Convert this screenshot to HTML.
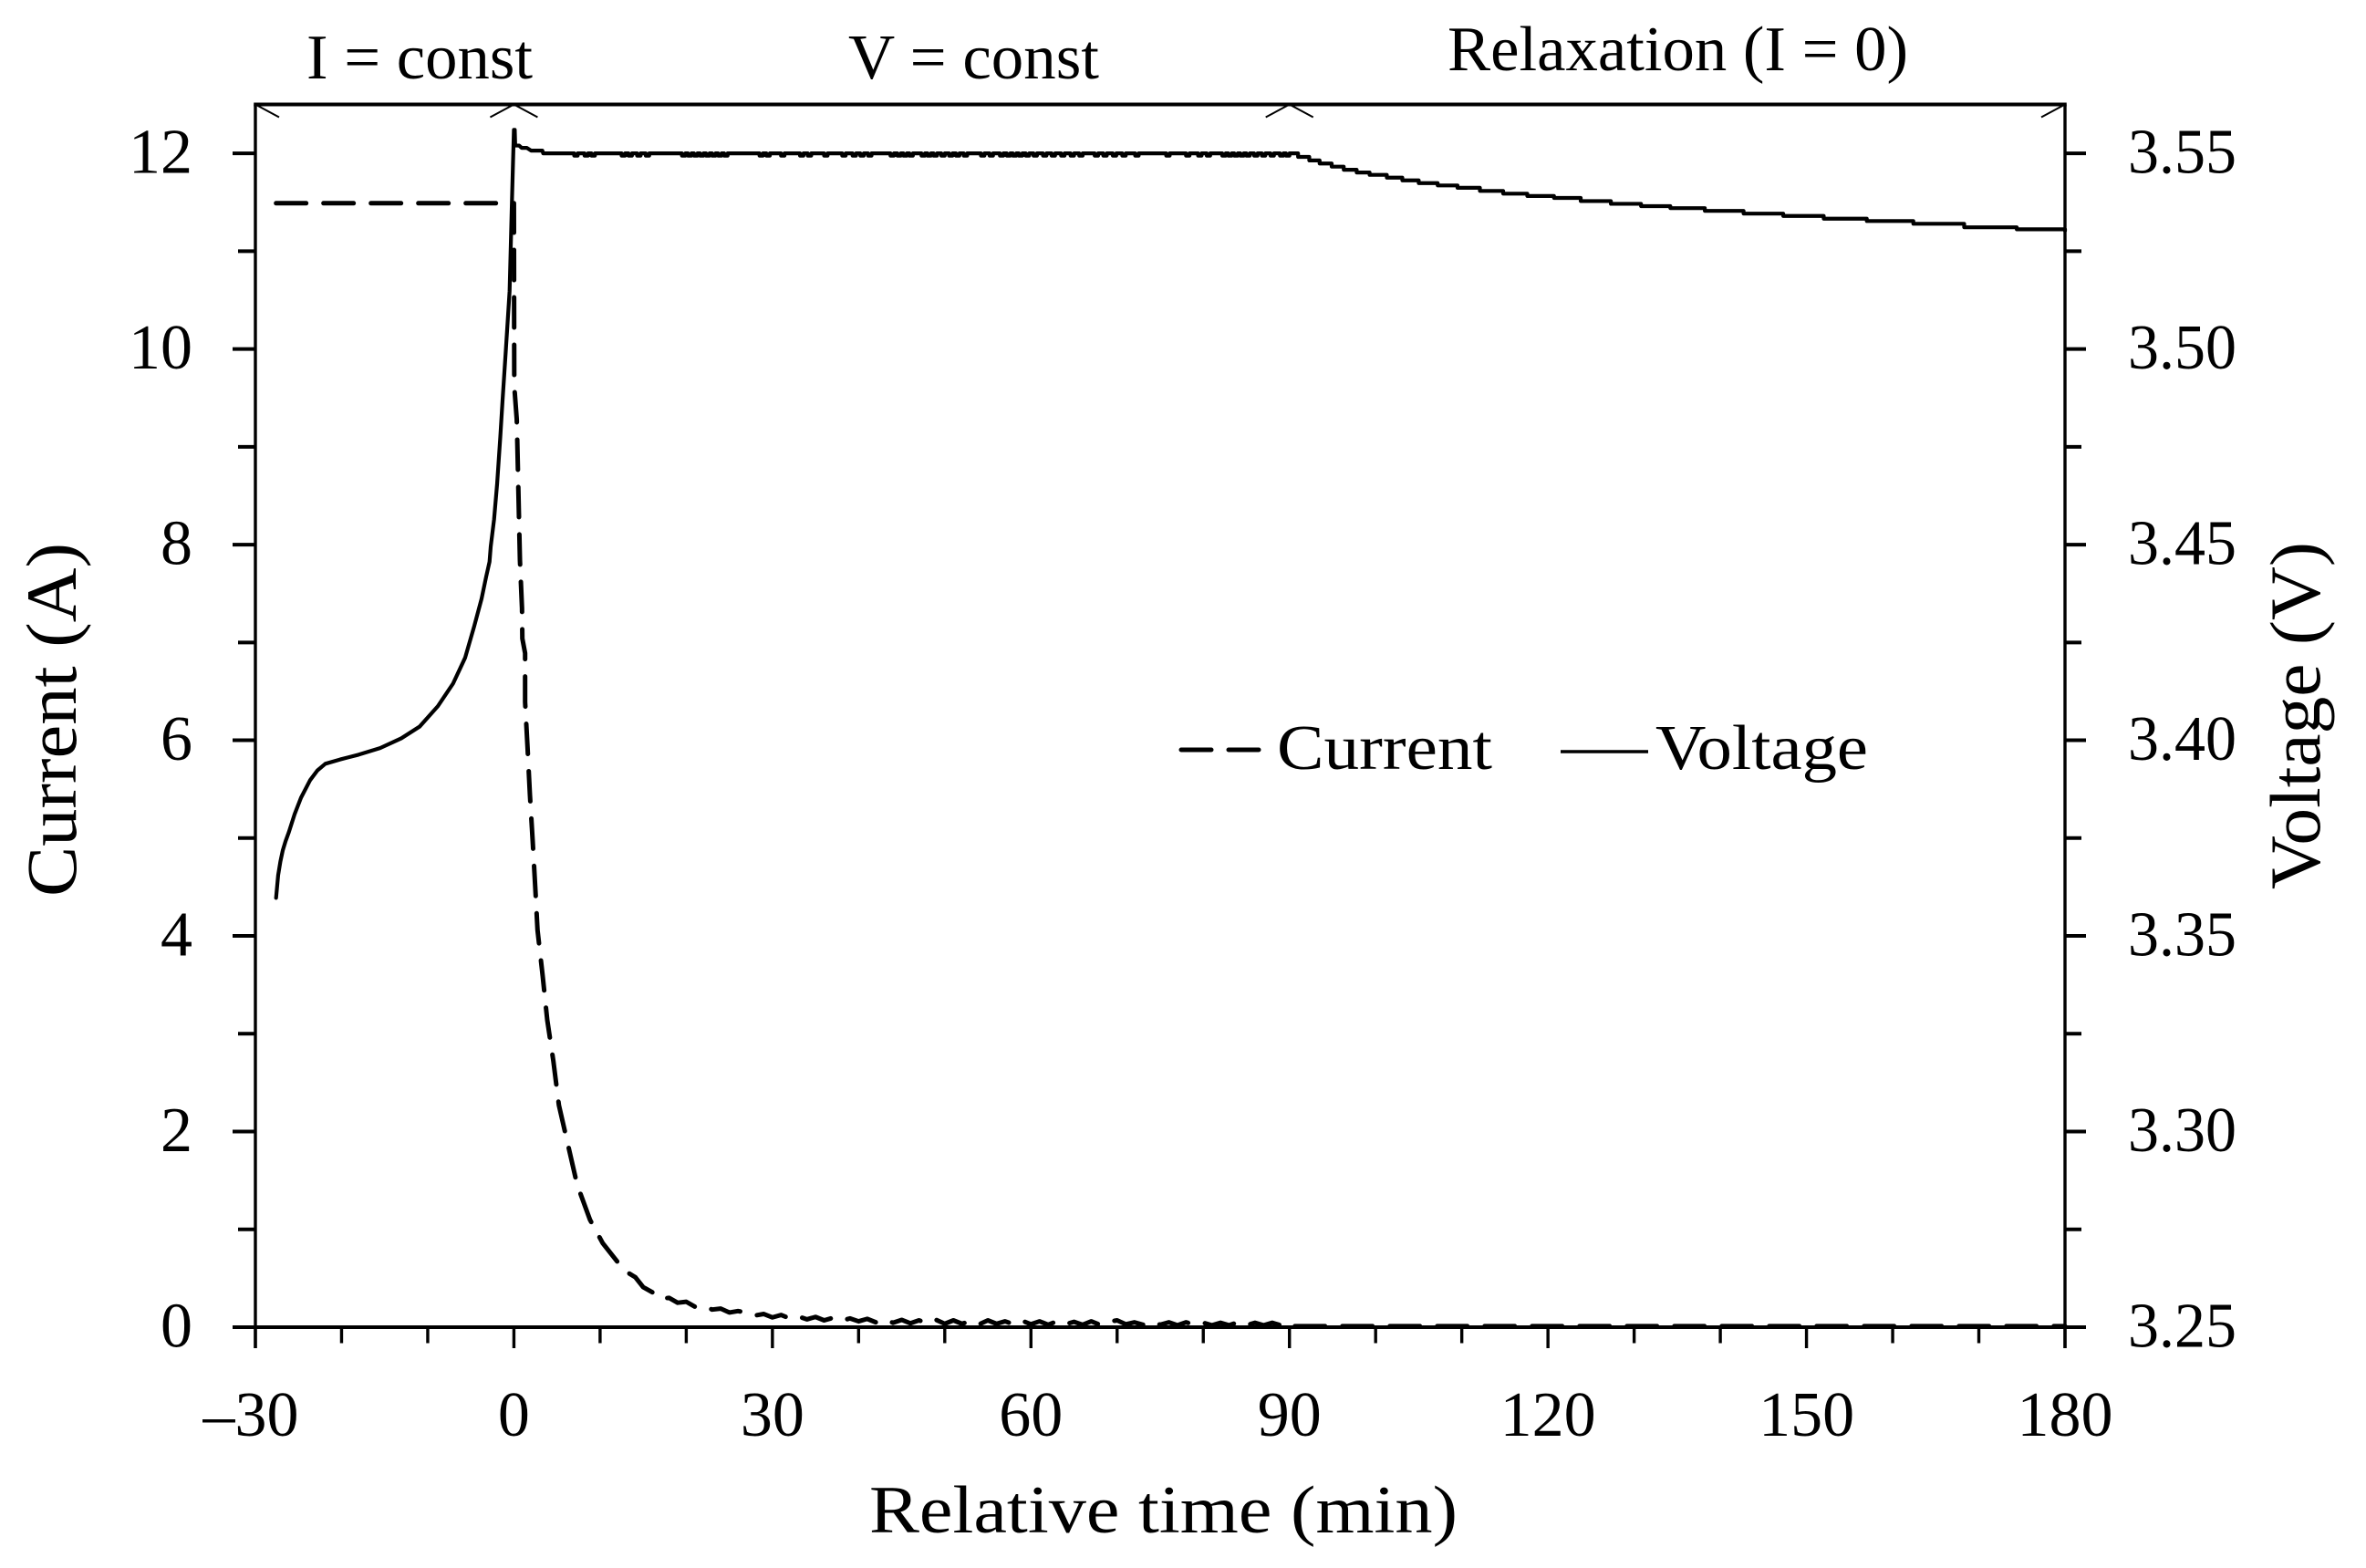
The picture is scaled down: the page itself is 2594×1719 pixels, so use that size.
<!DOCTYPE html>
<html lang="en">
<head>
<meta charset="utf-8">
<title>Current and voltage vs relative time</title>
<style>
html,body{margin:0;padding:0;background:#fff;}
svg{display:block;}
text{font-family:"Liberation Serif",serif;fill:#000;}
</style>
</head>
<body>
<svg id="chart" xmlns="http://www.w3.org/2000/svg" width="2594" height="1719" viewBox="0 0 2594 1719">
  <rect x="0" y="0" width="2594" height="1719" fill="#fff"/>
  <text x="336" y="86" font-size="70" textLength="248" lengthAdjust="spacingAndGlyphs">I = const</text>
  <text x="930" y="86" font-size="70" textLength="275" lengthAdjust="spacingAndGlyphs">V = const</text>
  <text x="1587" y="77" font-size="70" textLength="505" lengthAdjust="spacingAndGlyphs">Relaxation (I = 0)</text>
  <text x="953" y="1680" font-size="74" textLength="645" lengthAdjust="spacingAndGlyphs">Relative time (min)</text>
  <text transform="rotate(-90 83 983)" x="83" y="983" font-size="78" textLength="388" lengthAdjust="spacingAndGlyphs">Current (A)</text>
  <text transform="rotate(-90 2543 975)" x="2543" y="975" font-size="78" textLength="381" lengthAdjust="spacingAndGlyphs">Voltage (V)</text>
  <g>
    <line x1="1295" y1="822" x2="1380" y2="822" stroke="#000" stroke-width="5" stroke-linecap="round" stroke-dasharray="33 19"/>
    <text x="1400" y="843" font-size="70" textLength="236" lengthAdjust="spacingAndGlyphs">Current</text>
    <line x1="1711" y1="824" x2="1807" y2="824" stroke="#000" stroke-width="3.5"/>
    <text x="1815" y="843" font-size="70" textLength="233" lengthAdjust="spacingAndGlyphs">Voltage</text>
  </g>
</svg>
<script>
// ---- axis tick data ----
const xMajorTicks = [-30, 0, 30, 60, 90, 120, 150, 180];
const xTickLabels = ["\u201330", "0", "30", "60", "90", "120", "150", "180"];
const xMinorTicks = [-20, -10, 10, 20, 40, 50, 70, 80, 100, 110, 130, 140, 160, 170];
const currentMajorTicks = [0, 2, 4, 6, 8, 10, 12];
const currentTickLabels = ["0", "2", "4", "6", "8", "10", "12"];
const minorTicksCurrent = [1, 3, 5, 7, 9, 11];
const voltageMajorTicks = [3.25, 3.30, 3.35, 3.40, 3.45, 3.50, 3.55];
const voltageTickLabels = ["3.25", "3.30", "3.35", "3.40", "3.45", "3.50", "3.55"];
const minorTicksVoltage = [3.275, 3.325, 3.375, 3.425, 3.475, 3.525];
const phaseBoundaries = [-30, 0, 90, 180];

// ---- series data ----
const currentTimes = [-27.6, 0, 0.04, 0.06, 0.33, 0.38, 0.7, 0.94, 0.98, 1.3, 1.3, 1.58, 1.86, 2.18, 2.47, 2.74, 3.34, 3.87, 4.58, 5.22, 6.34, 7.33, 8.82, 10.3, 12, 13, 14.1, 15, 16.2, 17, 18, 19, 20, 21, 22, 23, 24, 25, 26, 27, 28, 29, 30, 31, 32, 33, 34, 35, 36, 37, 38, 39, 40, 41, 42, 43, 44, 45, 46, 47, 48, 49, 50, 51, 52, 53, 54, 55, 56, 57, 58, 59, 60, 61, 62, 63, 64, 65, 66, 67, 68, 69, 70, 71, 72, 73, 74, 75, 76, 77, 78, 79, 80, 81, 82, 83, 84, 85, 86, 87, 88, 89, 90, 90.3, 180];
const currentValues = [11.49, 11.49, 9.75, 9.6, 9.28, 9.1, 7.84, 7.35, 7.04, 6.89, 6.39, 5.93, 5.44, 4.97, 4.51, 4.06, 3.59, 3.14, 2.72, 2.27, 1.84, 1.46, 1.10, 0.86, 0.67, 0.57, 0.51, 0.41, 0.35, 0.29, 0.30, 0.25, 0.26, 0.21, 0.22, 0.18, 0.19, 0.15, 0.165, 0.15, 0.12, 0.135, 0.10, 0.125, 0.09, 0.11, 0.08, 0.105, 0.07, 0.095, 0.065, 0.09, 0.06, 0.085, 0.05, 0.08, 0.045, 0.075, 0.04, 0.07, 0.04, 0.075, 0.035, 0.07, 0.035, 0.065, 0.03, 0.07, 0.035, 0.06, 0.03, 0.065, 0.03, 0.06, 0.025, 0.06, 0.03, 0.055, 0.025, 0.06, 0.025, 0.055, 0.07, 0.03, 0.05, 0.025, 0.055, 0.025, 0.05, 0.02, 0.05, 0.025, 0.045, 0.02, 0.045, 0.02, 0.05, 0.02, 0.045, 0.02, 0.045, 0.02, 0.04, 0.01, 0.01];

const voltageChargeTimes = [-27.6, -27.36, -27.1, -26.83, -26.5, -26.12, -25.45, -24.71, -23.65, -22.8, -21.88, -20.16, -18.04, -15.53, -13.07, -10.94, -8.83, -7.06, -5.66, -4.6, -3.75, -3.22, -2.83, -2.69, -2.3, -1.95, -1.58, -1.32, -0.94, -0.5, -0.26, 0, 0.1, 0.15, 0.6, 0.9, 1.5, 2.0, 3.3, 3.4];
const voltageChargeValues = [3.3597, 3.3655, 3.3690, 3.3718, 3.3742, 3.3765, 3.3811, 3.3853, 3.3898, 3.3923, 3.3940, 3.3951, 3.3963, 3.3980, 3.4005, 3.4035, 3.4087, 3.4145, 3.4211, 3.4292, 3.4362, 3.4418, 3.4456, 3.4495, 3.4565, 3.4655, 3.4775, 3.4868, 3.4996, 3.5148, 3.5351, 3.5560, 3.5560, 3.5520, 3.5520, 3.5514, 3.5514, 3.5507, 3.5507, 3.5500];

const plateauVoltage = 3.5500;
const plateauDipVoltage = 3.5494;
const plateauDipTimes = [7.0, 8.2, 9.0, 12.5, 13.3, 14.3, 15.3, 19.5, 20.2, 20.9, 21.6, 22.3, 23.0, 23.7, 24.4, 28.5, 29.3, 31.0, 33.2, 34.1, 36.0, 38.1, 39.3, 40.2, 41.1, 43.7, 44.5, 45.2, 45.9, 47.3, 48.0, 48.7, 49.6, 50.5, 51.3, 52.2, 54.2, 55.2, 56.4, 57.2, 57.9, 58.6, 59.4, 60.3, 61.4, 62.4, 63.5, 64.6, 65.6, 67.4, 68.4, 69.5, 70.6, 72.1, 75.7, 78.0, 79.4, 80.4, 82.2, 82.9, 83.6, 84.3, 85.0, 85.9, 86.8, 87.8, 88.9, 89.6];

const relaxationTimes = [90.1, 91.0, 92.3, 93.5, 94.9, 96.3, 97.8, 99.3, 101.3, 103.1, 105.0, 107.2, 109.5, 112.1, 114.8, 117.6, 120.7, 123.8, 127.3, 130.8, 134.2, 138.2, 142.7, 147.3, 152.0, 157.0, 162.4, 168.3, 174.4, 180];
const relaxationValues = [3.5500, 3.5491, 3.5482, 3.5474, 3.5466, 3.5458, 3.5451, 3.5445, 3.5438, 3.5431, 3.5424, 3.5418, 3.5412, 3.5404, 3.5397, 3.5391, 3.5386, 3.5378, 3.5371, 3.5365, 3.5360, 3.5353, 3.5346, 3.5340, 3.5333, 3.5327, 3.5320, 3.5311, 3.5306, 3.5302];

// ---- axis functions ----
const plot = {left: 280, right: 2264, top: 114.5, bottom: 1455};
const xDomain = [-30, 180];
const currentDomain = [0, 12.5];
const voltageDomain = [3.25, 3.5625];
function xScale(t) { return plot.left + (t - xDomain[0]) / (xDomain[1] - xDomain[0]) * (plot.right - plot.left); }
function yCurrent(i) { return plot.bottom - (i - currentDomain[0]) / (currentDomain[1] - currentDomain[0]) * (plot.bottom - plot.top); }
function yVoltage(v) { return plot.bottom - (v - voltageDomain[0]) / (voltageDomain[1] - voltageDomain[0]) * (plot.bottom - plot.top); }

const svg = document.getElementById('chart');
const NS = 'http://www.w3.org/2000/svg';
function mk(tag, attrs, parent) {
  const node = document.createElementNS(NS, tag);
  for (const k in attrs) node.setAttribute(k, attrs[k]);
  (parent || svg).appendChild(node);
  return node;
}
function tickLine(x1, y1, x2, y2, w) {
  return mk('line', {x1: x1, y1: y1, x2: x2, y2: y2, stroke: '#000', 'stroke-width': w});
}
let el;

// ---- series ----
let voltagePath = '';
voltageChargeTimes.forEach(function (t, i) {
  voltagePath += (i ? 'L' : 'M') + xScale(t).toFixed(2) + ' ' + yVoltage(voltageChargeValues[i]).toFixed(2);
});
plateauDipTimes.forEach(function (t) {
  const a = xScale(t).toFixed(2), b = xScale(t + 0.4).toFixed(2);
  const hi = yVoltage(plateauVoltage).toFixed(2), lo = yVoltage(plateauDipVoltage).toFixed(2);
  voltagePath += 'L' + a + ' ' + hi + 'L' + a + ' ' + lo + 'L' + b + ' ' + lo + 'L' + b + ' ' + hi;
});
relaxationTimes.forEach(function (t, i) {
  voltagePath += 'L' + xScale(t).toFixed(2) + ' ' + yVoltage(i ? relaxationValues[i - 1] : plateauVoltage).toFixed(2);
  voltagePath += 'L' + xScale(t).toFixed(2) + ' ' + yVoltage(relaxationValues[i]).toFixed(2);
});
el = mk('path', {d: voltagePath, fill: 'none', stroke: '#000', 'stroke-width': 4.2, 'stroke-linejoin': 'round', 'stroke-linecap': 'round'});



let currentPath = '';
currentTimes.forEach(function (t, i) {
  currentPath += (i ? 'L' : 'M') + xScale(t).toFixed(2) + ' ' + yCurrent(currentValues[i]).toFixed(2);
});
el = mk('path', {d: currentPath, fill: 'none', stroke: '#000', 'stroke-width': 5, 'stroke-linejoin': 'round', 'stroke-linecap': 'round', 'stroke-dasharray': '33 19'});



// ---- frame ----
el = tickLine(plot.left - 1.75, plot.top, plot.right + 1.75, plot.top, 4);


el = tickLine(plot.left, plot.top, plot.left, plot.bottom + 23, 3.4);


el = tickLine(plot.right, plot.top, plot.right, plot.bottom + 23, 3.4);


el = tickLine(plot.left - 25, plot.bottom, plot.right + 23, plot.bottom, 4);



// ---- phase boundary markers ----
phaseBoundaries.forEach(function (t) {
  const x = xScale(t);
  if (t > xDomain[0]) {
    el = tickLine(x, plot.top, x - 26, plot.top + 14, 2);
    
    
  }
  if (t < xDomain[1]) {
    el = tickLine(x, plot.top, x + 26, plot.top + 14, 2);
    
    
  }
});

// ---- x ticks ----
xMajorTicks.forEach(function (t, i) {
  el = tickLine(xScale(t), plot.bottom, xScale(t), plot.bottom + 23, 3.4);
  
  
  el = mk('text', {x: xScale(t) + (t < 0 ? -5 : 0), y: 1574, 'font-size': 70, 'text-anchor': 'middle'});
  el.textContent = xTickLabels[i];
  
  
});
xMinorTicks.forEach(function (t) {
  el = tickLine(xScale(t), plot.bottom, xScale(t), plot.bottom + 17.5, 3.4);
  
  
});

// ---- left y ticks ----
currentMajorTicks.forEach(function (v, i) {
  const y = yCurrent(v);
  el = tickLine(plot.left - 25, y, plot.left, y, 4);
  
  
  el = mk('text', {x: 211, y: y + 21.5, 'font-size': 70, 'text-anchor': 'end'});
  el.textContent = currentTickLabels[i];
  
  
});
minorTicksCurrent.forEach(function (v) {
  const y = yCurrent(v);
  el = tickLine(plot.left - 19, y, plot.left, y, 4);
  
  
});

// ---- right y ticks ----
voltageMajorTicks.forEach(function (v, i) {
  const y = yVoltage(v);
  el = tickLine(plot.right, y, plot.right + 23, y, 4);
  
  
  el = mk('text', {x: 2333, y: y + 21.5, 'font-size': 70, textLength: 119, lengthAdjust: 'spacingAndGlyphs'});
  el.textContent = voltageTickLabels[i];
  
  
});
minorTicksVoltage.forEach(function (v) {
  const y = yVoltage(v);
  el = tickLine(plot.right, y, plot.right + 18, y, 4);
  
  
});
</script>
</body>
</html>
